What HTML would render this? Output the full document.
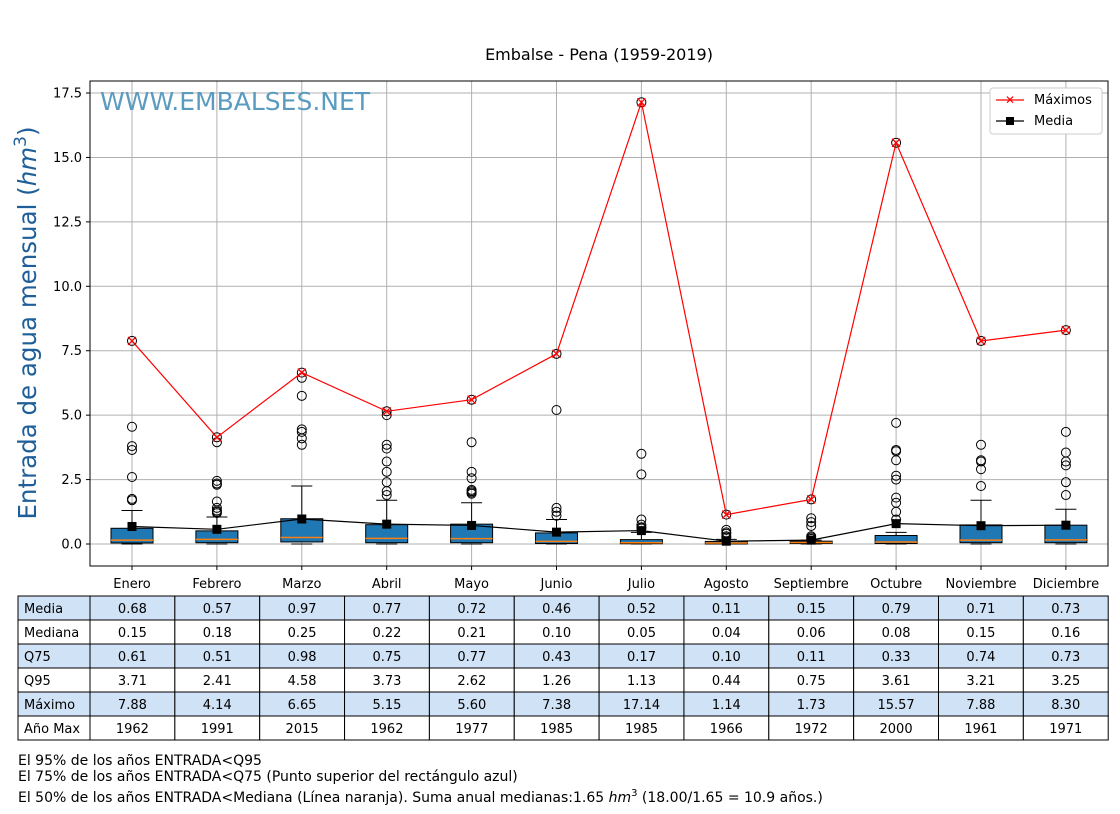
<!DOCTYPE html>
<html><head><meta charset="utf-8"><style>
body{margin:0;width:1120px;height:810px;background:#fff;font-family:"DejaVu Sans","Liberation Sans",sans-serif;overflow:hidden}
svg text{font-family:"DejaVu Sans","Liberation Sans",sans-serif}
</style></head><body>
<svg id="chart" width="1120" height="810" xmlns="http://www.w3.org/2000/svg">
<text x="599" y="60" font-size="16" text-anchor="middle">Embalse - Pena (1959-2019)</text>
<g id="grid"></g>
<g id="marks"></g>
<rect x="90" y="81" width="1018" height="485" fill="none" stroke="#000" stroke-width="1"/>
<text x="100" y="110" font-size="25" fill="#5b9bc0">WWW.EMBALSES.NET</text>
<text transform="translate(36,323) rotate(-90)" font-size="24.5" fill="#1f5f99" text-anchor="middle">Entrada de agua mensual (<tspan font-style="italic">hm</tspan><tspan dy="-10" font-size="17">3</tspan><tspan dy="10">)</tspan></text>
<g>
<rect x="990" y="88" width="112" height="46" rx="3" fill="#fff" stroke="#ccc"/>
<line x1="996" y1="100" x2="1024" y2="100" stroke="red" stroke-width="1.2"/>
<text x="1010" y="104" font-size="12" fill="red" text-anchor="middle">✕</text>
<text x="1034" y="104" font-size="13">Máximos</text>
<line x1="996" y1="121" x2="1024" y2="121" stroke="#000" stroke-width="1.2"/>
<rect x="1006" y="117" width="8" height="8" fill="#000"/>
<text x="1034" y="125" font-size="13">Media</text>
</g>
<g id="table"></g>
<text x="18" y="765" font-size="14">El 95% de los años ENTRADA&lt;Q95</text>
<text x="18" y="781" font-size="14">El 75% de los años ENTRADA&lt;Q75 (Punto superior del rectángulo azul)</text>
<text x="18" y="802" font-size="14">El 50% de los años ENTRADA&lt;Mediana (Línea naranja). Suma anual medianas:1.65 <tspan font-style="italic">hm</tspan><tspan dy="-6" font-size="10">3</tspan><tspan dy="6"> (18.00/1.65 = 10.9 años.)</tspan></text>
</svg>
<script>
const months=["Enero","Febrero","Marzo","Abril","Mayo","Junio","Julio","Agosto","Septiembre","Octubre","Noviembre","Diciembre"];
const media=[0.68,0.57,0.97,0.77,0.72,0.46,0.52,0.11,0.15,0.79,0.71,0.73];
const mediana=[0.15,0.18,0.25,0.22,0.21,0.10,0.05,0.04,0.06,0.08,0.15,0.16];
const q75=[0.61,0.51,0.98,0.75,0.77,0.43,0.17,0.10,0.11,0.33,0.74,0.73];
const q25=[0.04,0.05,0.08,0.05,0.05,0.02,0.01,0.0,0.02,0.02,0.05,0.05];
const q95=[3.71,2.41,4.58,3.73,2.62,1.26,1.13,0.44,0.75,3.61,3.21,3.25];
const maximo=[7.88,4.14,6.65,5.15,5.60,7.38,17.14,1.14,1.73,15.57,7.88,8.30];
const anoMax=[1962,1991,2015,1962,1977,1985,1985,1966,1972,2000,1961,1971];
const whiskHi=[1.3,1.05,2.25,1.7,1.6,0.95,0.45,0.18,0.15,0.45,1.7,1.35];
const whiskLo=[0,0,0,0,0,0,0,0,0,0,0,0];
const outliers=[
[4.55,3.8,3.65,2.6,1.75,1.7,7.88],
[3.95,2.45,2.35,2.3,1.65,1.4,1.3,1.25,1.2,4.14],
[6.45,5.75,4.45,4.35,4.1,3.85,6.65],
[5.0,3.85,3.7,3.2,2.8,2.4,2.05,1.9,5.15],
[3.95,2.8,2.55,2.1,2.05,2.0,1.95,5.6],
[5.2,1.4,1.25,1.1,7.38],
[3.5,2.7,0.95,0.75,0.65,0.6,17.14],
[0.55,0.45,0.4,0.3,0.25,1.14],
[1.0,0.85,0.7,0.3,0.25,0.2,1.73],
[4.7,3.65,3.6,3.25,2.65,2.5,1.8,1.6,1.25,0.95,15.57],
[3.85,3.25,3.2,2.9,2.25,7.88],
[4.35,3.55,3.2,3.05,2.4,1.9,8.3]];
const yTicks=[0,2.5,5,7.5,10,12.5,15,17.5];

const NS="http://www.w3.org/2000/svg";
const X=i=>132+i*84.9;
const Y=v=>544-v*25.77;
function mk(parent,tag,attrs){const e=document.createElementNS(NS,tag);for(const k in attrs)e.setAttribute(k,attrs[k]);document.getElementById(parent).appendChild(e);return e;}
yTicks.forEach(t=>{
 let l=mk('grid','line',{x1:90,x2:1108,y1:Y(t),y2:Y(t),stroke:'#b0b0b0','stroke-width':1});
 
 
 mk('grid','line',{x1:86,x2:90,y1:Y(t),y2:Y(t),stroke:'#000'});
 let tx=mk('grid','text',{x:82,y:Y(t)+4.5,'font-size':13,'text-anchor':'end'});tx.textContent=t.toFixed(1);
 
 
});
months.forEach((m,i)=>{
 let l=mk('grid','line',{x1:X(i),x2:X(i),y1:81,y2:566,stroke:'#b0b0b0','stroke-width':1});
 
 
 mk('grid','line',{x1:X(i),x2:X(i),y1:566,y2:570,stroke:'#000'});
 let tx=mk('grid','text',{x:X(i),y:588,'font-size':13,'text-anchor':'middle'});tx.textContent=m;
 
 
});
months.forEach((m,i)=>{
 const x=X(i),bw=42,cw=21;
 mk('marks','line',{x1:x,x2:x,y1:Y(q75[i]),y2:Y(whiskHi[i]),stroke:'#000'});
 mk('marks','line',{x1:x-cw/2,x2:x+cw/2,y1:Y(whiskHi[i]),y2:Y(whiskHi[i]),stroke:'#000'});
 mk('marks','line',{x1:x-cw/2,x2:x+cw/2,y1:Y(whiskLo[i]),y2:Y(whiskLo[i]),stroke:'#000'});
 let b=mk('marks','rect',{x:x-bw/2,y:Y(q75[i]),width:bw,height:Math.max(1.5,Y(q25[i])-Y(q75[i])),fill:'#1f77b4',stroke:'#000'});
 
 
 mk('marks','line',{x1:x-bw/2,x2:x+bw/2,y1:Y(mediana[i]),y2:Y(mediana[i]),stroke:'#ff7f0e','stroke-width':1.5});
 outliers[i].forEach(v=>{
  let c=mk('marks','circle',{cx:x,cy:Y(v),r:4.5,fill:'none',stroke:'#000'});
  
  
 });
});
let mp=mk('marks','polyline',{points:media.map((v,i)=>X(i)+','+Y(v)).join(' '),fill:'none',stroke:'#000','stroke-width':1.2});


media.forEach((v,i)=>{
 let r=mk('marks','rect',{x:X(i)-4.5,y:Y(v)-4.5,width:9,height:9,fill:'#000'});
 
 
});
let xp=mk('marks','polyline',{points:maximo.map((v,i)=>X(i)+','+Y(v)).join(' '),fill:'none',stroke:'red','stroke-width':1.2});


maximo.forEach((v,i)=>{
 const x=X(i),y=Y(v);
 let g=mk('marks','path',{d:`M${x-4},${y-4}L${x+4},${y+4}M${x-4},${y+4}L${x+4},${y-4}`,stroke:'red','stroke-width':1.3});
 
 
});
const rows=[["Media",media.map(v=>v.toFixed(2)),true],["Mediana",mediana.map(v=>v.toFixed(2)),false],["Q75",q75.map(v=>v.toFixed(2)),true],["Q95",q95.map(v=>v.toFixed(2)),false],["Máximo",maximo.map(v=>v.toFixed(2)),true],["Año Max",anoMax.map(String),false]];
rows.forEach((r,ri)=>{
 const y=596+ri*24,fill=r[2]?'#d0e2f6':'#fff';
 let h=mk('table','rect',{x:18,y:y,width:72,height:24,fill:fill,stroke:'#000'});
 
 
 let ht=mk('table','text',{x:24,y:y+17,'font-size':13});ht.textContent=r[0];
 
 
 r[1].forEach((v,i)=>{
  mk('table','rect',{x:90+i*84.85,y:y,width:84.85,height:24,fill:fill,stroke:'#000'});
  let t=mk('table','text',{x:132.4+i*84.85,y:y+17,'font-size':13,'text-anchor':'middle'});t.textContent=v;
  
  
 });
});
</script>
</body></html>
